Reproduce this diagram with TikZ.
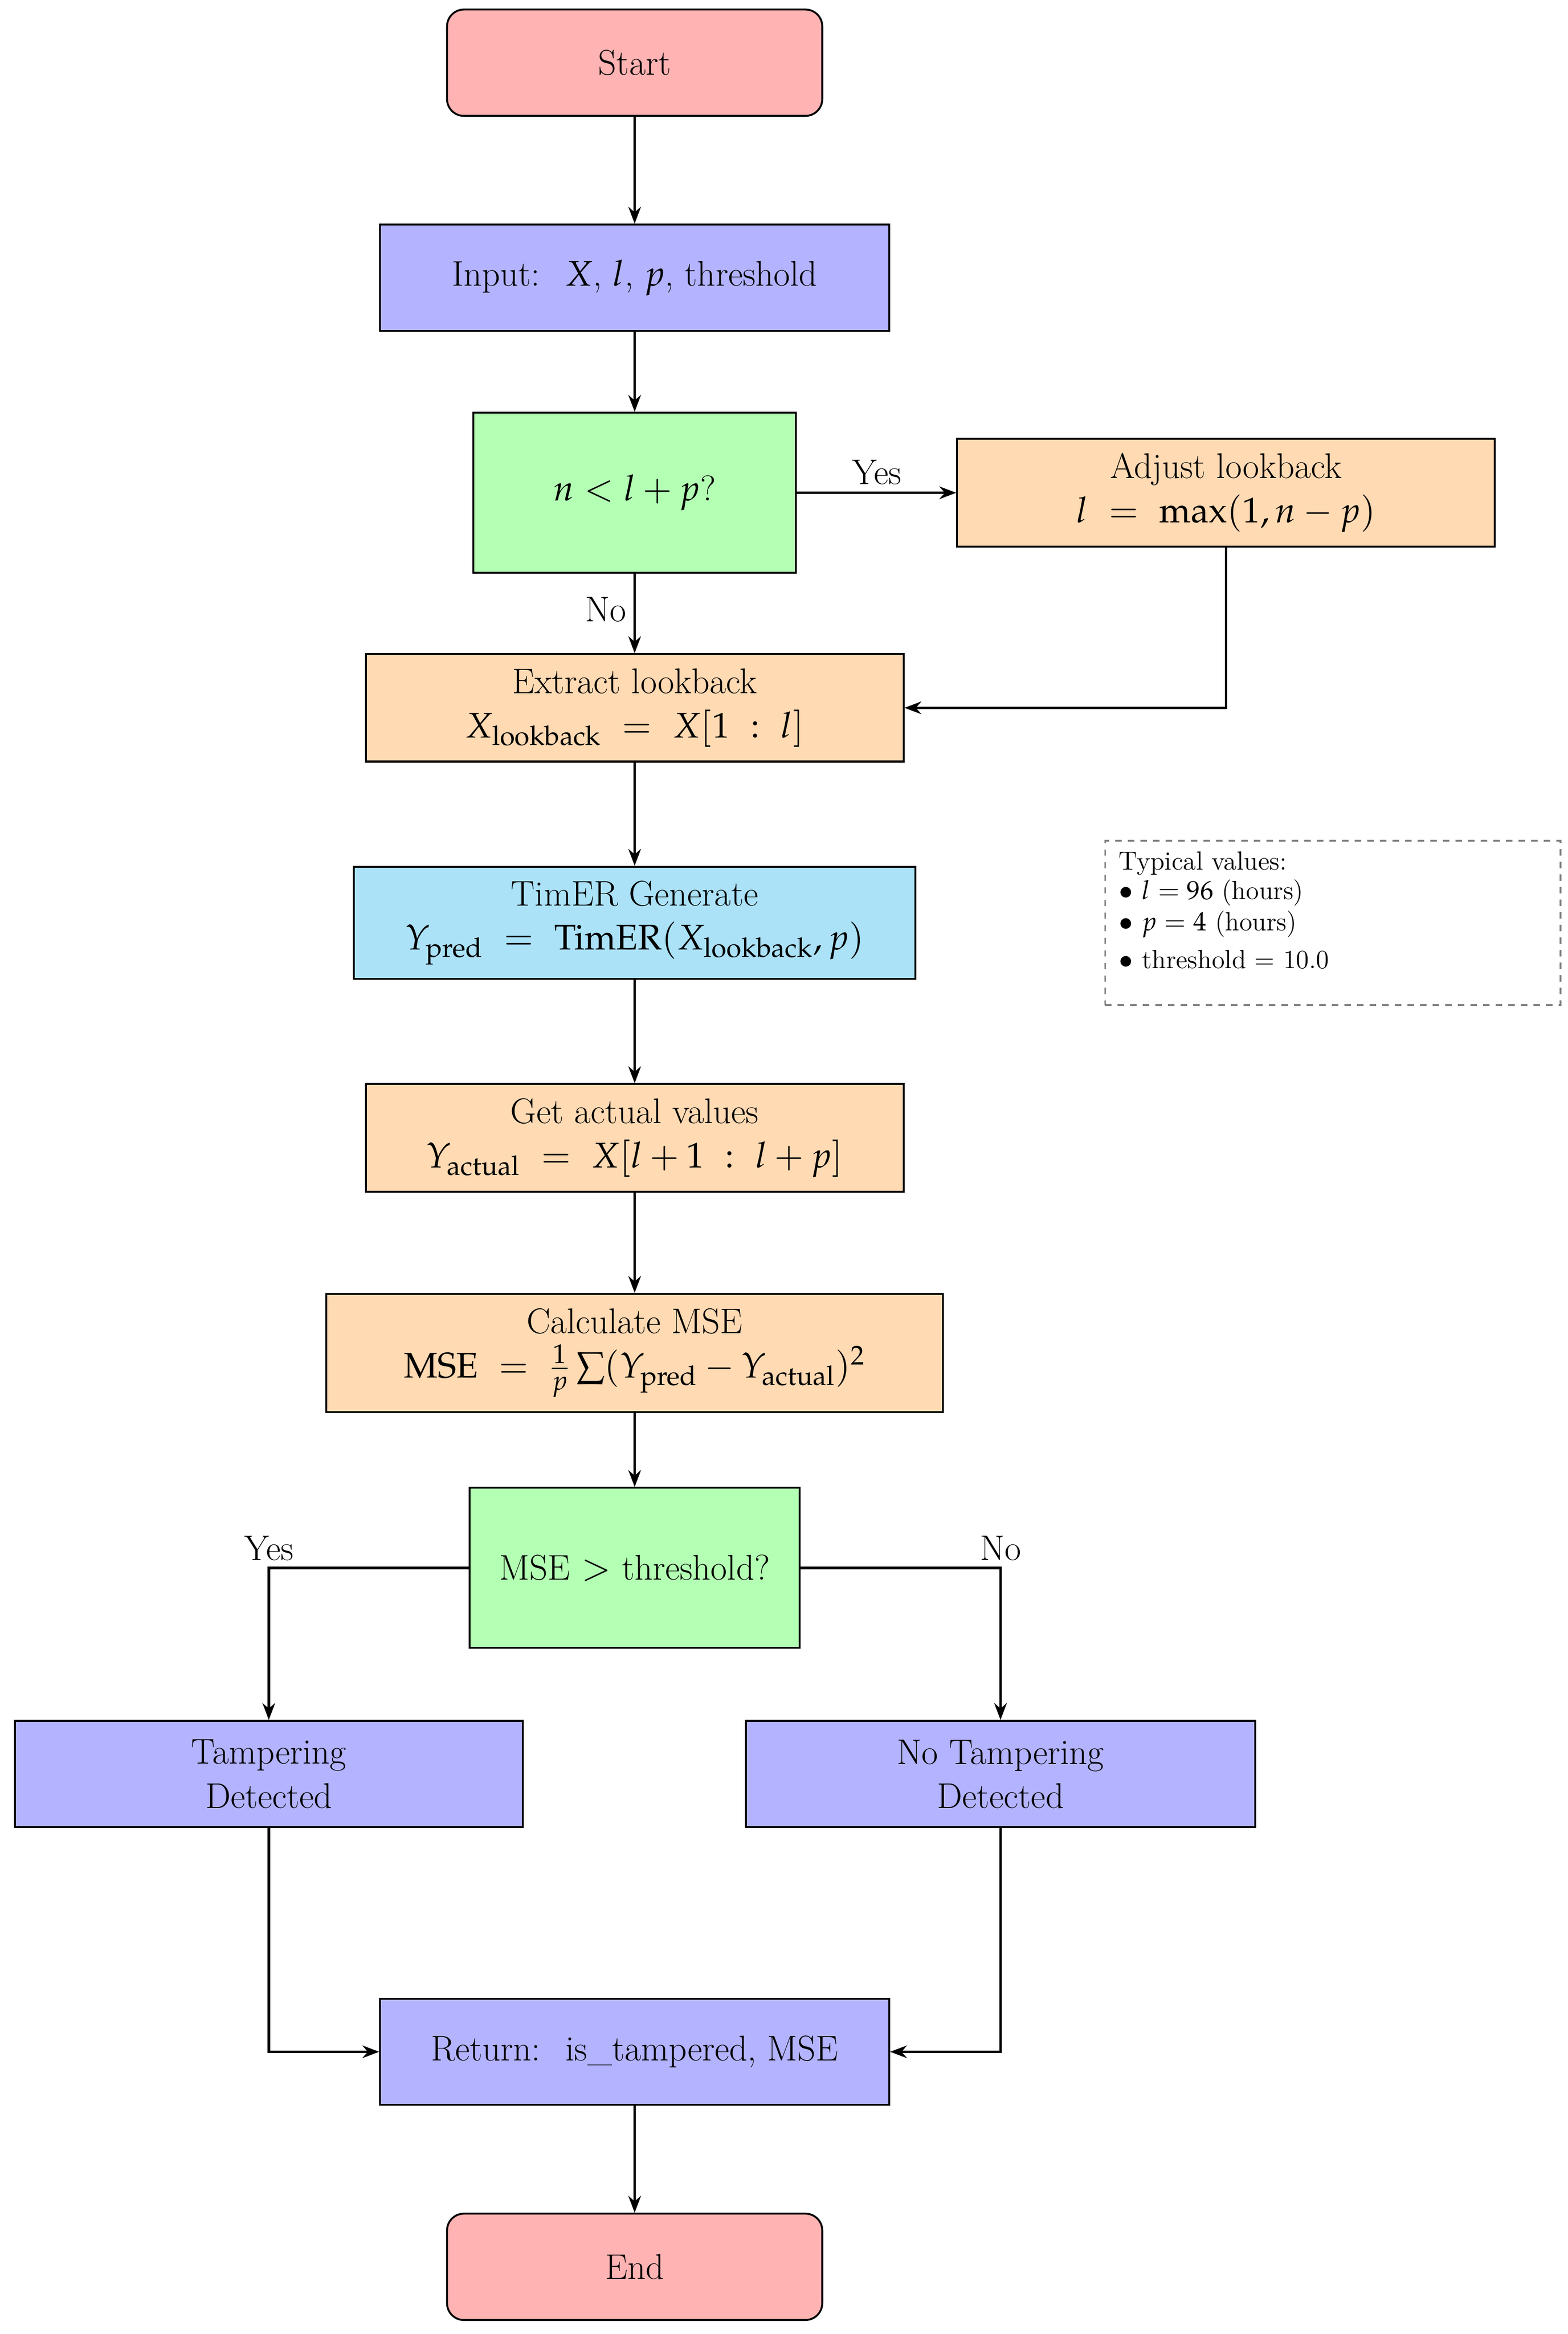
\documentclass[tikz,border=0pt]{standalone}
\usepackage{mathpazo}
\usetikzlibrary{arrows.meta}
\definecolor{cred}{HTML}{FFB3B3}
\definecolor{cblue}{HTML}{B3B3FF}
\definecolor{cgreen}{HTML}{B3FFB3}
\definecolor{corange}{HTML}{FFDAB3}
\definecolor{ccyan}{HTML}{ABE2F8}
\begin{document}
\begin{tikzpicture}[x=0.025cm,y=-0.025cm,
  box/.style={draw,line width=0.9pt,align=center,inner sep=0pt,font=\fontsize{17}{21}\selectfont},
  term/.style={box,rounded corners=8pt,fill=cred},
  arr/.style={draw,line width=1.2pt,-{Stealth[length=8pt,width=6pt]}},
  lab/.style={font=\fontsize{17}{21}\selectfont}]
\useasboundingbox (0,0) rectangle (1050,1563);
\node[term,minimum width=6.28cm,minimum height=1.78cm] (start) at (425,42) {Start};
\node[box,fill=cblue,minimum width=8.52cm,minimum height=1.78cm] (input) at (425,186) {Input:~ $X$, $l$, $p$, threshold};
\node[box,fill=cgreen,minimum width=5.4cm,minimum height=2.68cm] (d1) at (425,330) {$n<l+p$?};
\node[box,fill=corange,minimum width=9cm,minimum height=1.8cm] (adj) at (821,330) {Adjust lookback\\$l ~=~ \max(1,n-p)$};
\node[box,fill=corange,minimum width=9cm,minimum height=1.8cm] (ext) at (425,474) {Extract lookback\\$X_{\mathrm{lookback}} ~=~ X[1~:~l]$};
\node[box,fill=ccyan,minimum width=9.4cm,minimum height=1.88cm] (tim) at (425,618) {TimER Generate\\$Y_{\mathrm{pred}} ~=~ \mathrm{TimER}(X_{\mathrm{lookback}},p)$};
\node[box,fill=corange,minimum width=9cm,minimum height=1.8cm] (act) at (425,762) {Get actual values\\$Y_{\mathrm{actual}} ~=~ X[l+1~:~l+p]$};
\node[box,fill=corange,minimum width=10.32cm,minimum height=1.98cm] (mse) at (425,906) {Calculate MSE\\$\mathrm{MSE} ~=~ \frac{1}{p}\sum(Y_{\mathrm{pred}}-Y_{\mathrm{actual}})^2$};
\node[box,fill=cgreen,minimum width=5.52cm,minimum height=2.68cm] (d2) at (425,1050) {MSE $>$ threshold?};
\node[box,fill=cblue,minimum width=8.5cm,minimum height=1.78cm] (tam) at (180,1188) {Tampering\\Detected};
\node[box,fill=cblue,minimum width=8.52cm,minimum height=1.78cm] (notam) at (670,1188) {No Tampering\\Detected};
\node[box,fill=cblue,minimum width=8.52cm,minimum height=1.78cm] (ret) at (425,1374) {Return:~ is\_tampered, MSE};
\node[term,minimum width=6.28cm,minimum height=1.78cm] (end) at (425,1518) {End};
\node[draw=gray,dashed,line width=0.8pt,minimum width=7.62cm,minimum height=2.75cm] (leg) at (892.5,618) {};
\node[anchor=north west,align=left,inner sep=0pt,font=\fontsize{12.5}{15}\selectfont] (legt) at (749,570) {\textbf{Typical values:}\\[-1pt]
$\bullet$ $l=96$ (hours)\\
$\bullet$ $p=4$ (hours)\\[3pt]
$\bullet$ threshold = 10.0};
\coordinate (c1) at (821,474);
\coordinate (c2) at (180,1050);
\coordinate (c3) at (670,1050);
\coordinate (c4) at (180,1374);
\coordinate (c5) at (670,1374);
\draw[arr] (start) -- (input);
\draw[arr] (input) -- (d1);
\draw[arr] (d1) -- node[lab,above]{Yes} (adj);
\draw[arr] (d1) -- node[lab,left,pos=0.45]{No} (ext);
\draw[arr] (adj.south) -- (c1) -- (ext.east);
\draw[arr] (ext) -- (tim);
\draw[arr] (tim) -- (act);
\draw[arr] (act) -- (mse);
\draw[arr] (mse) -- (d2);
\draw[arr] (d2.west) -- (c2) -- (tam.north);
\draw[arr] (d2.east) -- (c3) -- (notam.north);
\node[lab,above] at (c2) {Yes};
\node[lab,above] at (c3) {No};
\draw[arr] (tam.south) -- (c4) -- (ret.west);
\draw[arr] (notam.south) -- (c5) -- (ret.east);
\draw[arr] (ret) -- (end);
\end{tikzpicture}
\end{document}
